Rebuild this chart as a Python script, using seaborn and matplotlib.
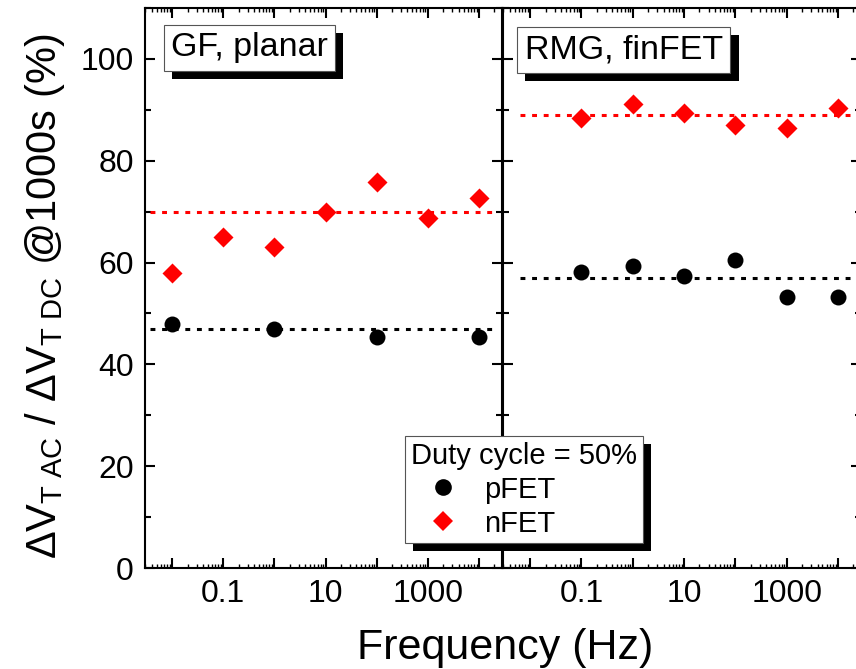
import matplotlib
matplotlib.use("Agg")
import matplotlib.pyplot as plt
import matplotlib.patheffects as pe
from matplotlib.ticker import FixedLocator, FixedFormatter, LogLocator, MultipleLocator, NullFormatter
from matplotlib.lines import Line2D
import seaborn as sns

# ---- data ----
planar_n_freq = [0.01, 0.1, 1, 10, 100, 1000, 10000]
planar_n_ratio = [58.0, 65.1, 63.1, 69.9, 75.9, 68.8, 72.7]
planar_p_freq = [0.01, 1, 100, 10000]
planar_p_ratio = [48.0, 46.9, 45.3, 45.3]
planar_n_level = 70.0
planar_p_level = 47.0

fin_freq = [0.1, 1, 10, 100, 1000, 10000]
fin_n_ratio = [88.3, 91.1, 89.3, 87.1, 86.5, 90.3]
fin_p_ratio = [58.1, 59.4, 57.4, 60.5, 53.2, 53.2]
fin_n_level = 89.0
fin_p_level = 57.0

panel_titles = ["GF, planar", "RMG, finFET"]
x_tick_values = [1e-3, 1e-2, 1e-1, 1, 10, 100, 1000, 1e4, 1e5]
x_tick_labels = ["", "", "0.1", "", "10", "", "1000", "", ""]
y_ticks = [0, 20, 40, 60, 80, 100]
legend_title = "Duty cycle = 50%"
series_names = ["pFET", "nFET"]

# ---- style ----
sns.set_theme(style="ticks")
plt.rcParams["font.family"] = ["Liberation Sans", "DejaVu Sans"]
plt.rcParams["mathtext.fontset"] = "custom"
plt.rcParams["mathtext.rm"] = "Liberation Sans"
plt.rcParams["mathtext.it"] = "Liberation Sans"
plt.rcParams["mathtext.bf"] = "Liberation Sans:bold"
for key in ["text.color", "axes.labelcolor", "xtick.color", "ytick.color",
            "xtick.labelcolor", "ytick.labelcolor", "axes.edgecolor"]:
    plt.rcParams[key] = "black"

W, H = 856, 669
fig = plt.figure(figsize=(W / 100, H / 100), dpi=100)
ax_l = fig.add_axes([145 / W, 101 / H, 357 / W, 560 / H])
ax_r = fig.add_axes([503 / W, 101 / H, 358 / W, 560 / H])

dash = (0, (1.6, 2.2))
shadow = [pe.SimplePatchShadow(offset=(5.8, -5.8), shadow_rgbFace="black", alpha=1.0), pe.Normal()]

panels = [
    (ax_l, planar_p_freq, planar_p_ratio, planar_n_freq, planar_n_ratio, planar_p_level, planar_n_level, 0.014),
    (ax_r, fin_freq, fin_p_ratio, fin_freq, fin_n_ratio, fin_p_level, fin_n_level, 0.047),
]

for i, (ax, pf, pv, nf, nv, plev, nlev, x0) in enumerate(panels):
    ax.set_xscale("log")
    ax.axhline(nlev, xmin=x0, xmax=0.99, color="red", lw=2.2, ls=dash, zorder=2)
    ax.axhline(plev, xmin=x0, xmax=0.99, color="black", lw=2.2, ls=dash, zorder=2)
    sns.scatterplot(x=pf, y=pv, ax=ax, color="black", marker="o", s=132,
                    linewidth=0, zorder=3, legend=False)
    sns.scatterplot(x=nf, y=nv, ax=ax, color="red", marker="D", s=104,
                    linewidth=0, zorder=3, legend=False)
    ax.set_xlim(10 ** -2.53, 10 ** 4.45)
    ax.set_ylim(0, 110)
    ax.xaxis.set_major_locator(FixedLocator(x_tick_values))
    ax.xaxis.set_major_formatter(FixedFormatter(x_tick_labels))
    ax.xaxis.set_minor_locator(LogLocator(base=10, subs=range(2, 10), numticks=20))
    ax.xaxis.set_minor_formatter(NullFormatter())
    ax.yaxis.set_major_locator(FixedLocator(y_ticks))
    ax.yaxis.set_minor_locator(MultipleLocator(10))
    ax.tick_params(which="both", direction="in", top=True, right=True, color="black")
    ax.tick_params(which="major", length=7.2, width=1.5, labelsize=23, pad=8,
                   labelcolor="black")
    ax.tick_params(axis="y", which="minor", length=4.5, width=1.5)
    ax.tick_params(axis="x", which="minor", length=3.0, width=1.0)
    for sp in ax.spines.values():
        sp.set_linewidth(1.5)
        sp.set_color("black")
    ax.set_xlabel("")
    ax.set_ylabel("")

    tx = 0.073 if i == 0 else 0.061
    ty = 0.957 if i == 0 else 0.952
    t = ax.text(tx, ty, panel_titles[i], transform=ax.transAxes, ha="left", va="top",
                fontsize=24.5, zorder=5,
                bbox=dict(boxstyle="square,pad=0.22", facecolor="white",
                          edgecolor="#555555", linewidth=0.8))
    t.get_bbox_patch().set_path_effects(shadow)

ax_r.tick_params(axis="y", labelleft=False)

ax_l.set_ylabel(r"$\Delta V_{T\ AC}$ / $\Delta V_{T\ DC}$ @1000s (%)", fontsize=30)
ax_l.yaxis.set_label_coords(-0.218, 0.486)
fig.text(505 / W, 1 - 659 / H, "Frequency (Hz)", ha="center", va="baseline", fontsize=31)

handles = [
    Line2D([], [], ls="none", marker="o", color="black", markersize=12, markeredgewidth=0),
    Line2D([], [], ls="none", marker="D", color="red", markersize=10.5, markeredgewidth=0),
]
leg = fig.legend(handles, series_names, title=legend_title, loc="upper left",
                 bbox_to_anchor=(405 / W, 1 - 436 / H), borderaxespad=0,
                 fontsize=21, title_fontsize=21, alignment="left",
                 frameon=True, fancybox=False, framealpha=1,
                 edgecolor="#555555", handlelength=2.2, handletextpad=0.3,
                 labelspacing=0.2, borderpad=0.2)
leg.get_frame().set_linewidth(0.8)
leg.get_frame().set_path_effects(shadow)

fig.savefig("out.png", dpi=100)
